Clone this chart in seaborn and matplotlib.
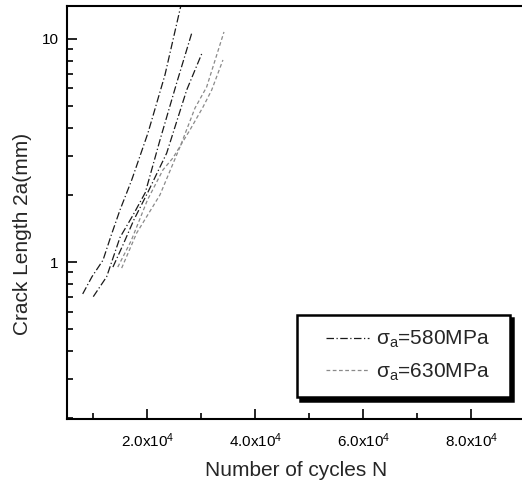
import matplotlib
matplotlib.use("Agg")
import matplotlib.pyplot as plt
import matplotlib.ticker as mticker
import matplotlib.patches as mpatches
import matplotlib.transforms as mtransforms
import seaborn as sns
import pandas as pd

# crack growth curves (N in cycles, 2a in mm)
n_580_1 = [8000, 9720, 11760, 13240, 14900, 17070, 20090, 23240, 26300]
a_580_1 = [0.72, 0.86, 1.02, 1.31, 1.71, 2.33, 3.79, 6.9, 14.5]

n_580_2 = [9960, 12440, 14910, 17300, 19600, 22310, 25410, 28190]
a_580_2 = [0.70, 0.86, 1.29, 1.62, 2.05, 3.52, 6.35, 10.6]

n_580_3 = [13600, 15500, 17500, 20090, 23560, 27260, 30040]
a_580_3 = [0.95, 1.20, 1.55, 2.06, 3.08, 5.9, 8.57]

n_630_1 = [15220, 18000, 22310, 26020, 28800, 30960, 34170]
a_630_1 = [0.94, 1.35, 2.0, 3.28, 4.9, 6.09, 10.75]

n_630_2 = [14500, 17000, 20000, 22870, 24720, 27870, 30280, 31890, 33980]
a_630_2 = [0.95, 1.25, 1.9, 2.59, 2.93, 3.91, 4.95, 5.9, 8.05]

stress_labels = [r"$\mathrm{\sigma_a}$=580MPa", r"$\mathrm{\sigma_a}$=630MPa"]

x_ticks = [20000, 40000, 60000, 80000]
x_tick_labels = [r"2.0x10$^{4}$", r"4.0x10$^{4}$", r"6.0x10$^{4}$", r"8.0x10$^{4}$"]

curves = [
    (n_580_1, a_580_1, stress_labels[0], "s1"),
    (n_580_2, a_580_2, stress_labels[0], "s2"),
    (n_580_3, a_580_3, stress_labels[0], "s3"),
    (n_630_1, a_630_1, stress_labels[1], "s4"),
    (n_630_2, a_630_2, stress_labels[1], "s5"),
]
rows = []
for n, a, lab, spec in curves:
    for xi, yi in zip(n, a):
        rows.append({"N": xi, "a": yi, "stress": lab, "specimen": spec})
df = pd.DataFrame(rows)

sns.set_style("ticks")
plt.rcParams["font.family"] = ["Liberation Sans", "DejaVu Sans"]
plt.rcParams["mathtext.fontset"] = "custom"
plt.rcParams["mathtext.rm"] = "Liberation Sans"
plt.rcParams["mathtext.it"] = "Liberation Sans:italic"

fig = plt.figure(figsize=(5.22, 4.8), dpi=100)
ax = fig.add_axes([0.1274, 0.127, 0.879, 0.8605])

sns.lineplot(data=df, x="N", y="a", hue="stress", style="stress", units="specimen",
             estimator=None, sort=False,
             palette={stress_labels[0]: "#1a1a1a", stress_labels[1]: "#8a8a8a"},
             dashes={stress_labels[0]: (6, 2, 1, 2), stress_labels[1]: (3, 2)},
             linewidth=0.9, ax=ax)

ax.set_yscale("log")
ax.set_xlim(5000, 90000)
ax.set_ylim(0.198, 14.05)

ax.xaxis.set_major_locator(mticker.FixedLocator(x_ticks))
ax.xaxis.set_major_formatter(mticker.FixedFormatter(x_tick_labels))
ax.xaxis.set_minor_locator(mticker.FixedLocator([10000, 30000, 50000, 70000, 90000]))
ax.yaxis.set_major_locator(mticker.FixedLocator([1, 10]))
ax.yaxis.set_major_formatter(mticker.FixedFormatter(["1", "10"]))
ax.yaxis.set_minor_locator(mticker.LogLocator(base=10, subs=range(2, 10)))
ax.yaxis.set_minor_formatter(mticker.NullFormatter())

ax.tick_params(which="both", direction="in", labelsize=11, width=1.2, colors="black")
ax.tick_params(which="major", length=7)
ax.tick_params(which="minor", length=4)
ax.tick_params(axis="x", pad=9)
ax.tick_params(axis="y", pad=5.5)
for s in ax.spines.values():
    s.set_linewidth(1.5)
    s.set_color("black")

ax.set_xlabel("Number of cycles N", fontsize=15, labelpad=8)
ax.set_ylabel("Crack Length 2a(mm)", fontsize=15)
ax.yaxis.set_label_coords(-0.075, 0.448)

# legend box with a hard black shadow
shift = mtransforms.ScaledTranslation(3.5 / 100, -3.5 / 100, fig.dpi_scale_trans)
shadow = mpatches.Rectangle((0.502, 0.053), 0.464, 0.199, transform=ax.transAxes + shift,
                            facecolor="black", edgecolor="black", linewidth=1.8, zorder=4)
box = mpatches.Rectangle((0.502, 0.053), 0.464, 0.199, transform=ax.transAxes,
                         facecolor="white", edgecolor="black", linewidth=1.8, zorder=5)
ax.add_patch(shadow)
ax.add_patch(box)

leg = ax.legend(loc="center", bbox_to_anchor=(0.743, 0.1525), frameon=False,
                fontsize=15, handlelength=2.1, handletextpad=0.3, labelspacing=0.55,
                borderpad=0.3)
leg.set_zorder(6)

fig.savefig("out.png", dpi=100)
